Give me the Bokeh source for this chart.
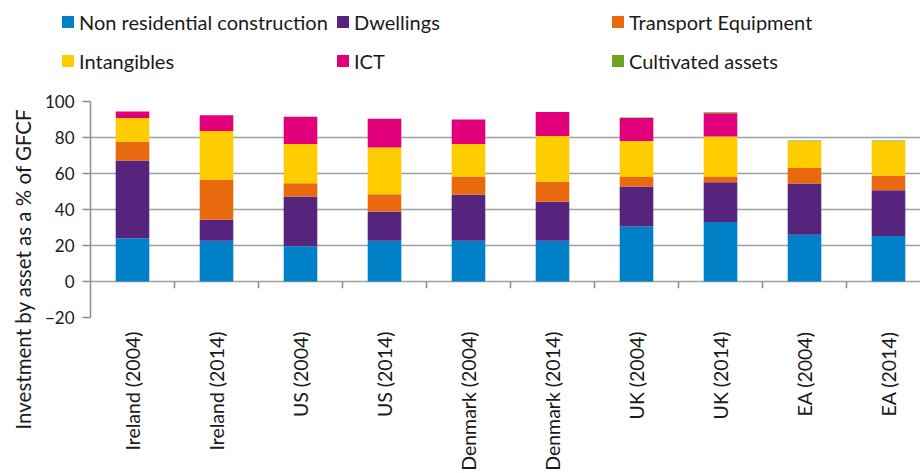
import math
from bokeh.plotting import figure
from bokeh.layouts import column
from bokeh.models import Range1d, FixedTicker, Div, Title
from bokeh.embed import file_html
from bokeh.resources import INLINE

categories = ["Ireland (2004)", "Ireland (2014)", "US (2004)", "US (2014)",
              "Denmark (2004)", "Denmark (2014)", "UK (2004)", "UK (2014)",
              "EA (2004)", "EA (2014)"]
series_names = ["Non residential construction", "Dwellings", "Transport Equipment",
                "Intangibles", "ICT", "Cultivated assets"]
non_residential = [24.0, 22.7, 19.6, 22.7, 22.7, 22.7, 30.6, 33.0, 26.0, 25.3]
dwellings = [43.2, 11.6, 27.6, 16.2, 25.5, 21.6, 22.2, 22.2, 28.4, 25.4]
transport = [10.5, 22.3, 7.4, 9.6, 10.1, 11.1, 5.3, 3.1, 8.7, 8.2]
intangibles = [13.1, 27.0, 21.8, 26.0, 18.1, 25.4, 19.9, 22.3, 14.8, 19.0]
ict = [3.7, 8.7, 15.1, 15.9, 13.6, 13.3, 12.8, 12.9, 0.0, 0.0]
cultivated = [0.0, 0.0, 0.0, 0.0, 0.0, 0.0, 0.3, 0.5, 0.5, 0.5]
y_ticks = [-20, 0, 20, 40, 60, 80, 100]

colors = ["#0080C6", "#56247C", "#E9690E", "#FFCC00", "#E2007A", "#6FA31F"]
FONT = "Lato"
TXT = "#1a1a1a"
GRID = "#a0a0a0"
W = 920
LEG_H = 91

# ---------------- legend strip (HTML) ----------------
parts = []
for i, (name, col) in enumerate(zip(series_names, colors)):
    cx = 62 + 275 * (i % 3)
    cy = 21.5 + 39 * (i // 3)
    parts.append(
        f'<div style="position:absolute;left:{cx}px;top:{cy - 6}px;width:12px;height:12px;'
        f'background:{col};"></div>'
        f'<div style="position:absolute;left:{cx + 17}px;top:{cy - 13}px;height:26px;'
        f'line-height:26px;white-space:nowrap;font-family:{FONT};font-size:20px;color:{TXT};">'
        f'{name}</div>')
legend_html = (f'<div style="position:relative;width:{W}px;height:{LEG_H}px;margin:0;padding:0;">'
               + "".join(parts) + '</div>')
leg = Div(text=legend_html, width=W, height=LEG_H, margin=0)

# ---------------- main chart ----------------
xs = [i + 0.5 for i in range(len(categories))]
data = {"x": xs}
keys = ["s0", "s1", "s2", "s3", "s4", "s5"]
for k, vals in zip(keys, [non_residential, dwellings, transport, intangibles, ict, cultivated]):
    data[k] = vals

p = figure(width=W, height=473 - LEG_H, output_backend="svg", toolbar_location=None,
           x_range=Range1d(0, 830 / 84.0), y_range=Range1d(y_ticks[0], y_ticks[-1]),
           min_border_left=90, min_border_right=0, min_border_top=10, min_border_bottom=156,
           margin=0)
p.outline_line_color = None
p.background_fill_color = "white"
p.border_fill_color = "white"

p.vbar_stack(keys, x="x", width=0.4, color=colors, line_color=None, source=data)

# x-axis tick marks at category boundaries on the zero line
bounds = [i for i in range(1, len(categories))]
p.segment(x0=bounds, y0=[0] * len(bounds), x1=bounds, y1=[-3.7] * len(bounds),
          line_color="#8c8c8c", line_width=1.5)

# y axis
yax = p.yaxis[0]
yax.ticker = FixedTicker(ticks=y_ticks)
yax.axis_line_color = "#8c8c8c"
yax.axis_line_width = 1.5
yax.major_tick_line_color = "#8c8c8c"
yax.major_tick_line_width = 1.5
yax.major_tick_out = 8
yax.major_tick_in = 0
yax.minor_tick_line_color = None
yax.major_label_text_font = FONT
yax.major_label_text_font_size = "17px"
yax.major_label_text_color = TXT
yax.major_label_standoff = 8

ytitle = Title(text="Investment by asset as a % of GFCF", align="left", offset=-112,
               text_font=FONT, text_font_size="20.5px", text_font_style="normal",
               text_color=TXT, standoff=14)
p.add_layout(ytitle, "left")

# x axis (labels only)
xax = p.xaxis[0]
xax.ticker = FixedTicker(ticks=xs)
xax.major_label_overrides = {x: c for x, c in zip(xs, categories)}
xax.major_label_orientation = math.pi / 2
xax.axis_line_color = None
xax.major_tick_line_color = None
xax.major_tick_out = 0
xax.major_tick_in = 0
xax.minor_tick_line_color = None
xax.major_label_text_font = FONT
xax.major_label_text_font_size = "19.5px"
xax.major_label_text_color = TXT
xax.major_label_standoff = 14

p.xgrid.grid_line_color = None
p.ygrid.ticker = FixedTicker(ticks=y_ticks)
p.ygrid.grid_line_color = GRID
p.ygrid.grid_line_width = 1.5

layout = column(leg, p, spacing=0, margin=0)
open("out.html", "w").write(file_html(layout, INLINE))
